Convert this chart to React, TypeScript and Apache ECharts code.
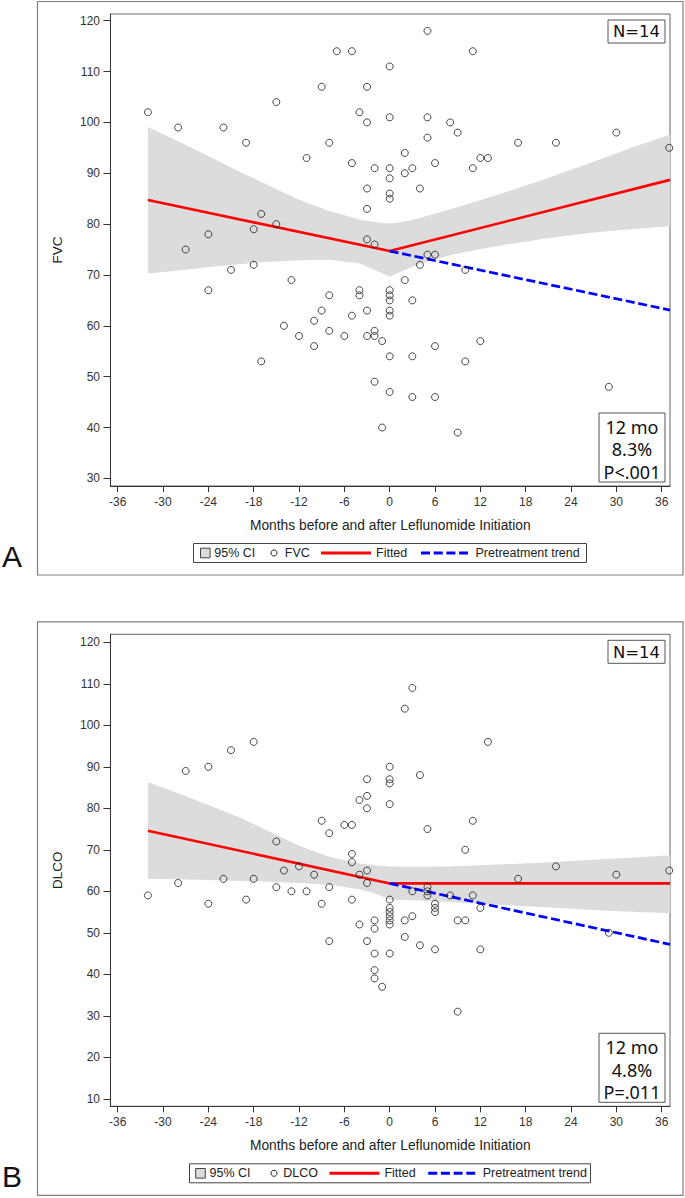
import React, { useEffect, useRef } from "react";
import * as echarts from "echarts";

// ---------- data ----------
const xTicks = [-36, -30, -24, -18, -12, -6, 0, 6, 12, 18, 24, 30, 36];
const fvcTicks = [30, 40, 50, 60, 70, 80, 90, 100, 110, 120];
const dlcoTicks = [10, 20, 30, 40, 50, 60, 70, 80, 90, 100, 110, 120];

const fvcPoints: [number, number][] = [
  [-32, 102], [-28, 99], [-22, 99], [-19, 96], [-15, 104], [-11, 93], [-9, 107], [-8, 96],
  [-7, 114], [-5, 114], [-5, 92], [-4, 102], [-3, 107], [-3, 100], [-3, 87], [-3, 83],
  [-2, 91], [0, 111], [0, 101], [0, 91], [0, 89], [0, 86], [0, 85], [-17, 82], [-15, 80],
  [-18, 79], [-24, 78], [-3, 77], [-27, 75], [-2, 76], [-21, 71], [-18, 72], [-24, 67],
  [-13, 69], [-8, 66], [-4, 67], [-4, 66], [0, 67], [0, 66], [0, 65], [0, 63], [0, 62],
  [-9, 63], [-5, 62], [-3, 63], [-10, 61], [-14, 60], [-12, 58], [-8, 59], [-6, 58],
  [-3, 58], [-2, 59], [-2, 58], [-1, 57], [-10, 56], [0, 54], [-17, 53], [-2, 49], [0, 47],
  [-1, 40], [5, 118], [11, 114], [5, 101], [8, 100], [9, 98], [5, 97], [17, 96], [22, 96],
  [30, 98], [37, 95], [2, 94], [3, 91], [6, 92], [2, 90], [11, 91], [12, 93], [13, 93],
  [4, 87], [5, 74], [6, 74], [4, 72], [10, 71], [2, 69], [3, 65], [12, 57], [6, 56],
  [3, 54], [10, 53], [29, 48], [3, 46], [6, 46], [9, 39],
];

const dlcoPoints: [number, number][] = [
  [-27, 89], [-24, 90], [-21, 94], [-18, 96], [0, 90], [0, 87], [0, 86], [-3, 87], [-3, 83],
  [-4, 82], [-3, 80], [0, 81], [-9, 77], [-8, 74], [-6, 76], [-5, 76], [3, 109], [2, 104],
  [13, 96], [4, 88], [11, 77], [5, 75], [-32, 59], [-28, 62], [-24, 57], [-22, 63],
  [-19, 58], [-18, 63], [-15, 72], [-15, 61], [-14, 65], [-13, 60], [-12, 66], [-11, 60],
  [-10, 64], [-9, 57], [-8, 61], [-8, 48], [-5, 69], [-5, 67], [-4, 64], [-3, 65], [-3, 62],
  [-5, 58], [-4, 52], [-2, 53], [-2, 51], [-3, 48], [-2, 45], [0, 45], [-2, 41], [-2, 39],
  [-1, 37], [0, 58], [0, 56], [0, 55], [0, 54], [0, 53], [0, 52], [10, 70], [22, 66],
  [30, 64], [37, 65], [17, 63], [5, 61], [5, 60], [5, 59], [3, 60], [8, 59], [11, 59],
  [6, 57], [6, 56], [6, 55], [12, 56], [2, 53], [3, 54], [9, 53], [10, 53], [29, 50],
  [2, 49], [4, 47], [6, 46], [12, 46], [9, 31],
];

const fvcFitted: [number, number][] = [[-32, 84.75], [0, 74.7], [37.1, 88.7]];
const fvcTrend: [number, number][] = [[0, 74.7], [37.1, 63.1]];
const dlcoFitted: [number, number][] = [[-32, 74.6], [0, 61.9], [37.1, 61.9]];
const dlcoTrend: [number, number][] = [[0, 61.9], [37.1, 47.2]];

const ciX = [-32, -28, -24, -20, -16, -12, -8, -4, -2, 0, 2, 4, 8, 12, 16, 20, 24, 28, 32, 37.1];
const fvcCiLower = [70.3, 70.9, 71.5, 72.1, 72.6, 72.9, 73.0, 72.3, 71.0, 69.7, 71.0, 72.2, 73.9, 75.1, 76.1, 77.0, 77.8, 78.5, 79.0, 79.6];
const fvcCiUpper = [99.1, 96.3, 93.4, 90.4, 87.6, 84.8, 82.6, 80.9, 80.4, 80.1, 80.5, 81.2, 82.9, 84.7, 86.6, 88.6, 90.7, 92.8, 95.0, 97.6];
const dlcoCiLower = [63.0, 62.9, 62.7, 62.5, 62.3, 62.0, 61.6, 60.5, 59.5, 58.0, 57.9, 57.8, 57.4, 57.0, 56.6, 56.2, 55.8, 55.4, 55.1, 54.7];
const dlcoCiUpper = [86.3, 83.6, 80.8, 77.9, 74.5, 71.0, 68.3, 66.7, 66.3, 66.0, 65.9, 65.9, 66.0, 66.3, 66.6, 66.9, 67.3, 67.7, 68.1, 68.7];

const xTitle = "Months before and after Leflunomide Initiation";
const panelLabels = ["A", "B"];
const yNames = ["FVC", "DLCO"];
const statLines = [["12 mo", "8.3%", "P<.001"], ["12 mo", "4.8%", "P=.011"]];
const nText = "N=14";

// ---------- layout ----------
const OFF = 620.3;
const SANS = "'Liberation Sans', Arial, Helvetica, sans-serif";
const STAT_FONT = "'Noto Sans', 'Open Sans', sans-serif";

function ciSeries(name: string, idx: number, lo: number[], hi: number[]) {
  return {
    type: "custom",
    name,
    xAxisIndex: idx,
    yAxisIndex: idx,
    silent: true,
    z: 1,
    data: ciX.map((x, i) => [x, lo[i], hi[i]]),
    encode: { x: 0, y: 1 },
    renderItem: (params: any, api: any) => {
      if (params.dataIndex !== 0) return null;
      const pts: number[][] = [];
      for (let i = 0; i < ciX.length; i++) pts.push(api.coord([ciX[i], hi[i]]));
      for (let i = ciX.length - 1; i >= 0; i--) pts.push(api.coord([ciX[i], lo[i]]));
      return { type: "polygon", shape: { points: pts }, style: { fill: "#dcdcdc", stroke: "none" } };
    },
  };
}

function legendGraphics(dy: number, wide: boolean, name: string) {
  const cy = 553 + dy;
  const g: any[] = [];
  const bx = wide ? 189.5 : 193.5;
  const bw = wide ? 401 : 393;
  g.push({ type: "rect", shape: { x: bx, y: cy - 9.5, width: bw, height: 19 }, style: { fill: "#fff", stroke: "#444", lineWidth: 1 }, z: 10 });
  const s = wide ? -4.8 : 0;
  const sq = 200.5 + s;
  g.push({ type: "rect", shape: { x: sq, y: cy - 4.8, width: 9.6, height: 9.6 }, style: { fill: "#dcdcdc", stroke: "#444", lineWidth: 1 }, z: 11 });
  const t = (x: number, txt: string) => ({
    type: "text", x, y: cy, z: 11,
    style: { text: txt, fill: "#222", fontSize: 12.5, fontFamily: SANS, align: "left", verticalAlign: "middle", textAlign: "left", textVerticalAlign: "middle" },
  });
  g.push(t(214.3 + s, "95% CI"));
  g.push({ type: "circle", shape: { cx: 274, cy, r: 3 }, style: { fill: "none", stroke: "#222", lineWidth: 1 }, z: 11 });
  g.push(t(wide ? 283.2 : 284.8, name));
  const rl = wide ? 329.4 : 321;
  g.push({ type: "line", shape: { x1: rl, y1: cy, x2: rl + 50, y2: cy }, style: { stroke: "#ff0000", lineWidth: 3 }, z: 11 });
  g.push(t(rl + 55, "Fitted"));
  const bl = wide ? 428.2 : 421;
  g.push({ type: "line", shape: { x1: bl, y1: cy, x2: bl + 47, y2: cy }, style: { stroke: "#0000ff", lineWidth: 3, lineDash: [9, 3.7] }, z: 11 });
  g.push(t(bl + 54.5, "Pretreatment trend"));
  return g;
}

function panelGraphics(p: number) {
  const dy = p * OFF;
  const g: any[] = [];
  g.push({ type: "rect", shape: { x: 37.5, y: 1.5 + dy, width: 645.5, height: 573.5 }, style: { fill: "none", stroke: "#808080", lineWidth: 1.2 }, z: 0 });
  g.push({
    type: "text", x: 2, y: 556 + dy, z: 11,
    style: { text: panelLabels[p], fill: "#111", fontSize: 30, fontFamily: SANS, align: "left", verticalAlign: "middle", textAlign: "left", textVerticalAlign: "middle" },
  });
  // N box
  g.push({ type: "rect", shape: { x: 608, y: 20 + dy, width: 57, height: 23 }, style: { fill: "#fff", stroke: "#555", lineWidth: 1 }, z: 10 });
  g.push({
    type: "text", x: 636.5, y: 31.8 + dy, z: 11,
    style: { text: nText, fill: "#111", fontSize: 16.5, fontFamily: "'DejaVu Sans', sans-serif", align: "center", verticalAlign: "middle", textAlign: "center", textVerticalAlign: "middle" },
  });
  // stats box
  g.push({ type: "rect", shape: { x: 599, y: 413 + dy, width: 66, height: 69 }, style: { fill: "#fff", stroke: "#555", lineWidth: 1 }, z: 10 });
  statLines[p].forEach((line, i) => {
    g.push({
      type: "text", x: 632, y: 426.7 + i * 22.7 + dy, z: 11,
      style: { text: line, fill: "#111", fontSize: 18, fontFamily: STAT_FONT, align: "center", verticalAlign: "middle", textAlign: "center", textVerticalAlign: "middle" },
    });
  });
  return g.concat(legendGraphics(dy, p === 1, yNames[p]));
}

function xAxisCfg(gridIndex: number) {
  return {
    type: "value", gridIndex, min: -36.95, max: 37.1,
    axisLine: { show: true, onZero: false, lineStyle: { color: "#333", width: 1 } },
    axisTick: { show: true, length: 6, customValues: xTicks, lineStyle: { color: "#333" } },
    axisLabel: { customValues: xTicks, margin: 10, fontSize: 12, color: "#333", fontFamily: SANS },
    splitLine: { show: false },
    name: xTitle, nameLocation: "middle", nameGap: 32,
    nameTextStyle: { fontSize: 13.8, color: "#222", fontFamily: SANS },
  };
}

function yAxisCfg(gridIndex: number, min: number, max: number, ticks: number[], name: string) {
  return {
    type: "value", gridIndex, min, max,
    axisLine: { show: true, onZero: false, lineStyle: { color: "#333", width: 1 } },
    axisTick: { show: true, length: 7, customValues: ticks, lineStyle: { color: "#333" } },
    axisLabel: { customValues: ticks, margin: 10.5, fontSize: 12, color: "#333", fontFamily: SANS },
    splitLine: { show: false },
    name, nameLocation: "middle", nameGap: 46, nameRotate: 90,
    nameTextStyle: { fontSize: 13.5, color: "#222", fontFamily: SANS },
  };
}

function scatterSeries(name: string, idx: number, pts: [number, number][]) {
  return {
    type: "scatter", name, xAxisIndex: idx, yAxisIndex: idx, data: pts,
    symbol: "circle", symbolSize: 7, z: 5, silent: true,
    itemStyle: { color: "rgba(255,255,255,0)", borderColor: "#1a1a1a", borderWidth: 1 },
  };
}

function lineSeries(name: string, idx: number, pts: [number, number][], color: string, dashed: boolean, z: number) {
  return {
    type: "line", name, xAxisIndex: idx, yAxisIndex: idx, data: pts,
    symbol: "none", showSymbol: false, z, silent: true,
    lineStyle: { color, width: dashed ? 2.7 : 2.6, type: dashed ? [9, 3.7] : "solid" },
  };
}

export default function App() {
  const ref = useRef<HTMLDivElement>(null);
  useEffect(() => {
    if (!ref.current) return;
    const chart = echarts.init(ref.current, undefined, { renderer: "svg" });
    const gridBase = { left: 110.5, width: 559.5, height: 472, show: true, borderColor: "#666", borderWidth: 1, backgroundColor: "transparent", containLabel: false };
    chart.setOption({
      animation: false,
      backgroundColor: "#fff",
      grid: [
        { ...gridBase, top: 14 },
        { ...gridBase, top: 14 + OFF },
      ],
      xAxis: [xAxisCfg(0), xAxisCfg(1)],
      yAxis: [
        yAxisCfg(0, 28.5, 121.32, fvcTicks, yNames[0]),
        yAxisCfg(1, 8.19, 121.93, dlcoTicks, yNames[1]),
      ],
      series: [
        ciSeries("95% CI", 0, fvcCiLower, fvcCiUpper),
        scatterSeries("FVC", 0, fvcPoints),
        lineSeries("Fitted", 0, fvcFitted, "#ff0000", false, 3),
        lineSeries("Pretreatment trend", 0, fvcTrend, "#0000ff", true, 4),
        ciSeries("95% CI", 1, dlcoCiLower, dlcoCiUpper),
        scatterSeries("DLCO", 1, dlcoPoints),
        lineSeries("Fitted", 1, dlcoFitted, "#ff0000", false, 3),
        lineSeries("Pretreatment trend", 1, dlcoTrend, "#0000ff", true, 4),
      ],
      graphic: { elements: [...panelGraphics(0), ...panelGraphics(1)] },
    });
    return () => chart.dispose();
  }, []);
  return <div ref={ref} style={{ position: "absolute", left: 0, top: 0, width: 685, height: 1198 }} />;
}
